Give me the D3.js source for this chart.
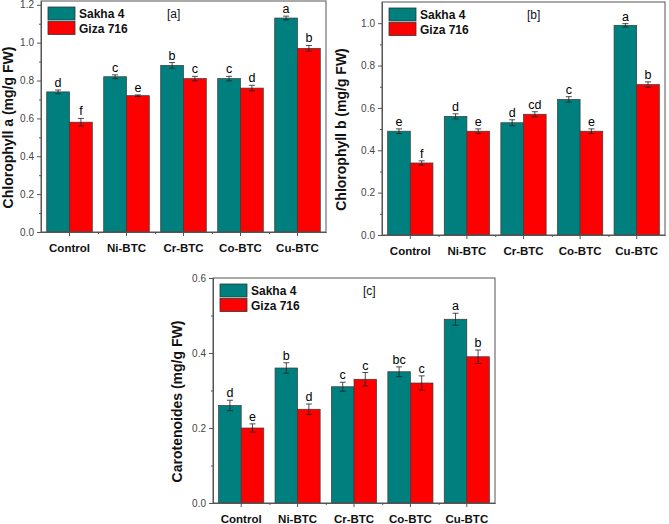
<!DOCTYPE html>
<html>
<head>
<meta charset="utf-8">
<script src="https://cdn.jsdelivr.net/npm/d3@7"></script>
<style>
  body { margin: 0; background: #fff; }
  svg { display: block; font-family: "Liberation Sans", Arial, sans-serif; }
</style>
</head>
<body>
<svg id="chart" width="669" height="524"></svg>
<script>
const groups = ["Control", "Ni-BTC", "Cr-BTC", "Co-BTC", "Cu-BTC"];
const seriesNames = ["Sakha 4", "Giza 716"];
const colors = ["#007f7f", "#ff0000"];

// [a] chlorophyll a
const chlASakha = [0.74, 0.82, 0.88, 0.81, 1.13];
const chlAGiza = [0.58, 0.72, 0.81, 0.76, 0.97];
const chlASakhaErr = [0.01, 0.01, 0.015, 0.012, 0.01];
const chlAGizaErr = [0.02, 0.004, 0.012, 0.015, 0.015];
const chlASakhaLetters = ["d", "c", "b", "c", "a"];
const chlAGizaLetters = ["f", "e", "c", "d", "b"];
const chlATicks = [0, 0.2, 0.4, 0.6, 0.8, 1.0, 1.2];

// [b] chlorophyll b
const chlBSakha = [0.49, 0.56, 0.53, 0.64, 0.99];
const chlBGiza = [0.34, 0.49, 0.57, 0.49, 0.71];
const chlBSakhaErr = [0.011, 0.012, 0.014, 0.013, 0.008];
const chlBGizaErr = [0.01, 0.011, 0.012, 0.011, 0.013];
const chlBSakhaLetters = ["e", "d", "d", "c", "a"];
const chlBGizaLetters = ["f", "e", "cd", "e", "b"];
const chlBTicks = [0, 0.2, 0.4, 0.6, 0.8, 1.0];

// [c] carotenoides
const carSakha = [0.26, 0.36, 0.31, 0.35, 0.49];
const carGiza = [0.20, 0.25, 0.33, 0.32, 0.39];
const carSakhaErr = [0.014, 0.014, 0.012, 0.013, 0.016];
const carGizaErr = [0.011, 0.014, 0.018, 0.019, 0.018];
const carSakhaLetters = ["d", "b", "c", "bc", "a"];
const carGizaLetters = ["e", "d", "c", "c", "b"];
const carTicks = [0, 0.2, 0.4, 0.6];

const svg = d3.select("#chart");

function drawPanel(p) {
  const g = svg.append("g");

  const x = d3.scaleBand().domain(groups).range([p.left, p.right]).paddingInner(0).paddingOuter(0);
  const xs = d3.scaleBand().domain(seriesNames).range([0, x.bandwidth()]).paddingInner(0).paddingOuter(0.25);
  const y = d3.scaleLinear().domain([0, p.yMax]).range([p.bottom, p.top]);

  const rows = [];
  groups.forEach((grp, i) => {
    p.values.forEach((vals, s) => {
      rows.push({ grp, s, v: vals[i], e: p.errs[s][i], l: p.letters[s][i] });
    });
  });

  // bars
  g.selectAll(".bar")
    .data(rows)
    .enter()
    .append("rect")
    .attr("x", (d) => x(d.grp) + xs(seriesNames[d.s]))
    .attr("y", (d) => y(d.v))
    .attr("width", xs.bandwidth())
    .attr("height", (d) => y(0) - y(d.v))
    .attr("fill", (d) => colors[d.s])
    .attr("stroke", "#3a3a3a")
    .attr("stroke-width", 0.7);

  // error bars
  const cx = (d) => x(d.grp) + xs(seriesNames[d.s]) + xs.bandwidth() / 2;
  const eb = g.selectAll(".err").data(rows).enter().append("g")
    .attr("stroke", "#222").attr("stroke-width", 0.8);
  eb.append("line")
    .attr("x1", cx).attr("x2", cx)
    .attr("y1", (d) => y(d.v - d.e)).attr("y2", (d) => y(d.v + d.e));
  eb.append("line")
    .attr("x1", (d) => cx(d) - 3).attr("x2", (d) => cx(d) + 3)
    .attr("y1", (d) => y(d.v + d.e)).attr("y2", (d) => y(d.v + d.e));
  eb.append("line")
    .attr("x1", (d) => cx(d) - 3).attr("x2", (d) => cx(d) + 3)
    .attr("y1", (d) => y(d.v - d.e)).attr("y2", (d) => y(d.v - d.e));

  // letters
  g.selectAll(".letter")
    .data(rows)
    .enter()
    .append("text")
    .attr("x", cx)
    .attr("y", (d) => y(d.v + d.e) - 3)
    .attr("text-anchor", "middle")
    .style("font-size", "12.5px")
    .attr("fill", "#000")
    .text((d) => d.l);

  // frame
  g.append("rect")
    .attr("x", p.left).attr("y", p.top)
    .attr("width", p.right - p.left).attr("height", p.bottom - p.top)
    .attr("fill", "none").attr("stroke", "#555").attr("stroke-width", 1);

  // y axis
  const yAxis = g.append("g")
    .attr("transform", `translate(${p.left},0)`)
    .call(d3.axisLeft(y).tickValues(p.ticks).tickSize(4).tickSizeOuter(0).tickPadding(3).tickFormat(d3.format(".1f")));
  const minorY = d3.range(1, Math.round(p.yMax * 10) + 1, 2).map((k) => k / 10).filter((v) => v < p.yMax);
  const yMinor = g.append("g")
    .attr("transform", `translate(${p.left},0)`)
    .call(d3.axisLeft(y).tickValues(minorY).tickSize(2).tickSizeOuter(0).tickFormat(""));

  // x axis
  const xAxis = g.append("g")
    .attr("transform", `translate(0,${p.bottom})`)
    .call(d3.axisBottom(x).tickSize(4).tickSizeOuter(0).tickPadding(8));
  const xb = d3.scaleLinear().domain([0, groups.length]).range([p.left, p.right]);
  const xMinor = g.append("g")
    .attr("transform", `translate(0,${p.bottom})`)
    .call(d3.axisBottom(xb).tickValues([1, 2, 3, 4]).tickSize(2).tickSizeOuter(0).tickFormat(""));

  [yAxis, yMinor, xAxis, xMinor].forEach((a) => {
    a.select(".domain").attr("stroke", "#555");
    a.selectAll(".tick line").attr("stroke", "#555");
  });
  yAxis.selectAll("text").style("font-size", "10px").attr("fill", "#444");
  xAxis.selectAll("text")
    .style("font-size", "11.5px")
    .style("font-weight", "bold")
    .attr("fill", "#111");

  // y title
  g.append("text")
    .attr("transform", `translate(${p.left - p.titleOffset},${(p.top + p.bottom) / 2 + 11}) rotate(-90)`)
    .attr("text-anchor", "middle")
    .style("font-size", "14px")
    .style("font-weight", "bold")
    .attr("fill", "#111")
    .text(p.title);

  // legend
  const lg = g.append("g").attr("transform", `translate(${p.left + 7},${p.top + 6})`);
  seriesNames.forEach((name, i) => {
    lg.append("rect")
      .attr("x", 0).attr("y", i * 14.5)
      .attr("width", 27).attr("height", 13)
      .attr("fill", colors[i]).attr("stroke", "#333").attr("stroke-width", 0.8);
    lg.append("text")
      .attr("x", 31).attr("y", i * 14.5 + 11)
      .style("font-size", "12px").style("font-weight", "bold")
      .attr("fill", "#111")
      .text(name);
  });

  // panel tag
  g.append("text")
    .attr("x", p.left + p.tagX).attr("y", p.top + 17)
    .style("font-size", "12px")
    .attr("fill", "#111")
    .text(p.tag);
}

drawPanel({
  left: 41, right: 326, top: 1, bottom: 232, yMax: 1.22,
  values: [chlASakha, chlAGiza], errs: [chlASakhaErr, chlAGizaErr],
  letters: [chlASakhaLetters, chlAGizaLetters], ticks: chlATicks,
  title: "Chlorophyll a (mg/g FW)", titleOffset: 28, tag: "[a]", tagX: 126
});

drawPanel({
  left: 382, right: 665, top: 2, bottom: 235, yMax: 1.1,
  values: [chlBSakha, chlBGiza], errs: [chlBSakhaErr, chlBGizaErr],
  letters: [chlBSakhaLetters, chlBGizaLetters], ticks: chlBTicks,
  title: "Chlorophyll b (mg/g FW)", titleOffset: 36, tag: "[b]", tagX: 145
});

drawPanel({
  left: 213, right: 495, top: 278, bottom: 503, yMax: 0.6,
  values: [carSakha, carGiza], errs: [carSakhaErr, carGizaErr],
  letters: [carSakhaLetters, carGizaLetters], ticks: carTicks,
  title: "Carotenoides (mg/g FW)", titleOffset: 31, tag: "[c]", tagX: 150
});
</script>
</body>
</html>
